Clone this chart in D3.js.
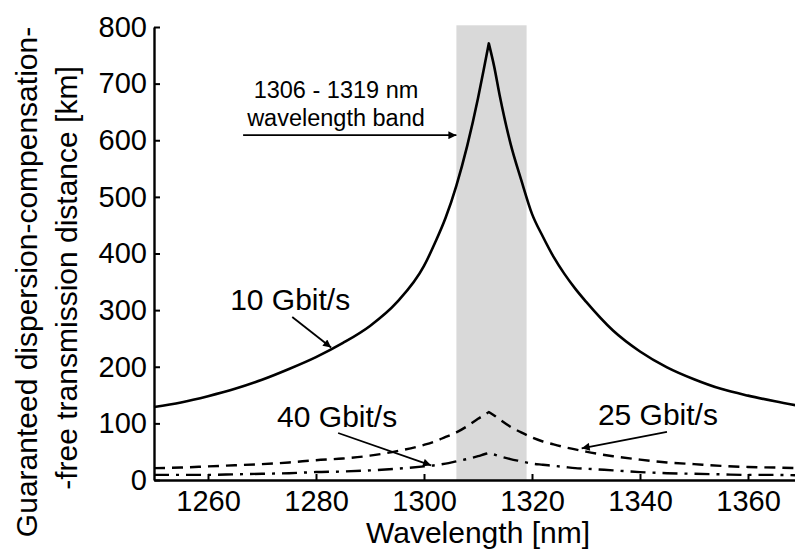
<!DOCTYPE html>
<html>
<head>
<meta charset="utf-8">
<script src="https://d3js.org/d3.v7.min.js"></script>
<style>
  body { margin: 0; background: white; }
  svg { display: block; }
</style>
</head>
<body>
<script>
  // wavelength grid [nm]
  const wavelengths = [1250, 1255, 1260, 1265, 1270, 1275, 1280, 1285, 1290, 1295, 1300, 1302, 1304, 1306, 1308, 1310, 1311, 1312,
    1313, 1314, 1316, 1318, 1320, 1322, 1324, 1326, 1328, 1330, 1335, 1340, 1345, 1350, 1355, 1360, 1365, 1370];

  // guaranteed distance [km]
  const dist10G = [129, 137, 148, 161, 177, 196, 217, 242, 272, 314, 378, 418, 463, 520, 590, 674, 722, 771,
    730, 680, 595, 530, 470, 430, 394, 364, 338, 315, 264, 227, 199, 178, 161, 149, 139, 130];
  const dist25G = [21, 22, 24, 26, 28, 31, 35, 38, 43, 51, 62, 68, 76, 84, 95, 108, 114, 120,
    114, 107, 94, 84, 75, 68, 63, 58, 54, 50, 42, 36, 31, 28, 25, 23, 22, 21];
  const dist40G = [9, 9, 9, 10, 11, 12, 14, 15, 17, 20, 24, 26, 29, 33, 37, 42, 45, 48,
    45, 42, 37, 33, 29, 27, 25, 23, 21, 20, 17, 14, 12, 11, 10, 9, 9, 8];

  const band = [1306, 1319];
  const xTicks = [1260, 1280, 1300, 1320, 1340, 1360];
  const yTicks = [0, 100, 200, 300, 400, 500, 600, 700, 800];

  const width = 795, height = 555;
  const font = "'Liberation Sans', Arial, sans-serif";

  const svg = d3.select("body").append("svg")
    .attr("width", width)
    .attr("height", height)
    .style("font-family", font);

  const x = d3.scaleLinear().domain([1250, 1370]).range([154, 802]);
  const y = d3.scaleLinear().domain([0, 800]).range([480, 27]);

  svg.append("defs").append("marker")
    .attr("id", "arrow")
    .attr("viewBox", "0 0 10 10")
    .attr("refX", 10)
    .attr("refY", 5)
    .attr("markerWidth", 10)
    .attr("markerHeight", 8)
    .attr("markerUnits", "userSpaceOnUse")
    .attr("orient", "auto")
    .append("path")
    .attr("d", "M0,0 L10,5 L0,10 Z")
    .attr("fill", "black");

  // shaded wavelength band
  svg.append("rect")
    .attr("x", x(band[0]))
    .attr("y", y(803))
    .attr("width", x(band[1]) - x(band[0]))
    .attr("height", y(0) - y(803))
    .attr("fill", "#d9d9d9");

  // smooth each flank separately so the peak stays a sharp cusp
  const line = d3.line()
    .x(d => x(d[0]))
    .y(d => y(d[1]))
    .curve(d3.curveMonotoneX);

  function curvePath(values) {
    const pts = wavelengths.map((w, i) => [w, values[i]]);
    const peak = d3.maxIndex(values);
    const left = line(pts.slice(0, peak + 1));
    const right = line(pts.slice(peak));
    return left + "L" + right.slice(1);
  }

  // 10 Gbit/s solid
  svg.append("path")
    .attr("d", curvePath(dist10G))
    .attr("fill", "none")
    .attr("stroke", "black")
    .attr("stroke-width", 2.6)
    .attr("stroke-linejoin", "round");

  // 25 Gbit/s dashed
  svg.append("path")
    .attr("d", curvePath(dist25G))
    .attr("fill", "none")
    .attr("stroke", "black")
    .attr("stroke-width", 2.4)
    .attr("stroke-dasharray", "11,7");

  // 40 Gbit/s dash-dot
  svg.append("path")
    .attr("d", curvePath(dist40G))
    .attr("fill", "none")
    .attr("stroke", "black")
    .attr("stroke-width", 2.4)
    .attr("stroke-dasharray", "15,7,3,7");

  // axes
  const xAxis = svg.append("g")
    .attr("transform", `translate(0,${y(0)})`)
    .call(d3.axisBottom(x).tickValues(xTicks).tickFormat(d3.format("d"))
      .tickSize(-6).tickSizeOuter(0).tickPadding(10));

  const yAxis = svg.append("g")
    .attr("transform", `translate(${x(1250)},0)`)
    .call(d3.axisLeft(y).tickValues(yTicks).tickFormat(d3.format("d"))
      .tickSize(-6).tickSizeOuter(0).tickPadding(7));

  [xAxis, yAxis].forEach(g => {
    g.select(".domain").attr("stroke-width", 2.4);
    g.selectAll(".tick line").attr("stroke-width", 2);
    g.selectAll(".tick text")
      .attr("font-size", 29)
      .attr("font-family", font)
      .attr("fill", "black");
  });

  // axis titles
  svg.append("text")
    .attr("x", 478)
    .attr("y", 543)
    .attr("text-anchor", "middle")
    .attr("font-size", 30)
    .text("Wavelength [nm]");

  svg.append("text")
    .attr("transform", "translate(37,282) rotate(-90)")
    .attr("text-anchor", "middle")
    .attr("font-size", 30)
    .text("Guaranteed dispersion-compensation-");

  svg.append("text")
    .attr("transform", "translate(77,278) rotate(-90)")
    .attr("text-anchor", "middle")
    .attr("font-size", 30)
    .text("-free transmission distance [km]");

  // band annotation
  svg.append("text")
    .attr("x", x(1283.7))
    .attr("y", y(674))
    .attr("text-anchor", "middle")
    .attr("font-size", 23.5)
    .text("1306 - 1319 nm");

  svg.append("text")
    .attr("x", x(1283.7))
    .attr("y", y(625))
    .attr("text-anchor", "middle")
    .attr("font-size", 23.5)
    .text("wavelength band");

  function arrow(x1, y1, x2, y2) {
    svg.append("line")
      .attr("x1", x(x1)).attr("y1", y(y1))
      .attr("x2", x(x2)).attr("y2", y(y2))
      .attr("stroke", "black")
      .attr("stroke-width", 1.8)
      .attr("marker-end", "url(#arrow)");
  }

  arrow(1266.5, 609, 1306, 609);

  // series labels
  function label(txt, lx, ly) {
    svg.append("text")
      .attr("x", x(lx))
      .attr("y", y(ly))
      .attr("font-size", 30)
      .text(txt);
  }

  label("10 Gbit/s", 1264.1, 300);
  arrow(1275.6, 288, 1282.8, 234);

  label("40 Gbit/s", 1272.8, 94);
  arrow(1284.1, 83, 1301.3, 26);

  label("25 Gbit/s", 1332.2, 97);
  arrow(1345, 85, 1329.2, 56);
</script>
</body>
</html>
